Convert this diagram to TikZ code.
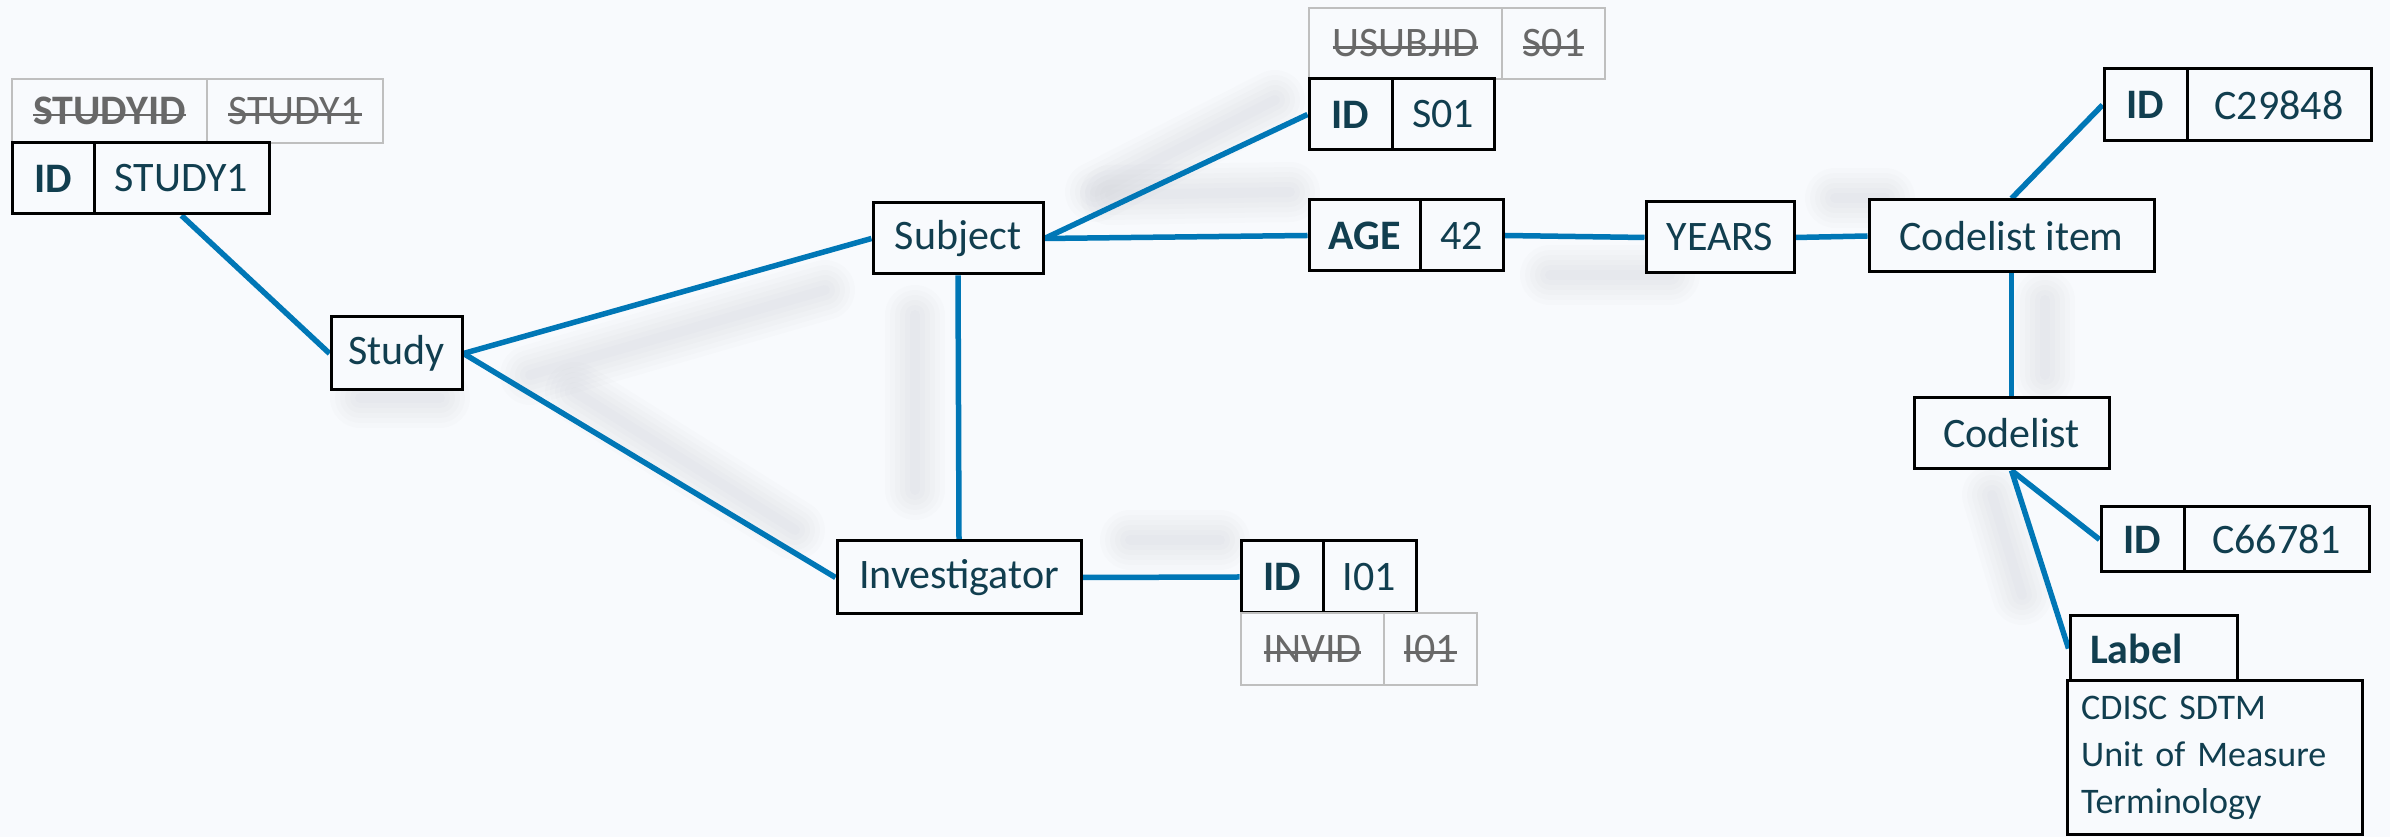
\documentclass[tikz,border=0pt]{standalone}
\usepackage{fontspec}
\setmainfont{Carlito}
\newsavebox{\strkbox}
\newcommand{\strk}[1]{\sbox{\strkbox}{#1}\rlap{\usebox{\strkbox}}\rule[0.2em]{\wd\strkbox}{0.8pt}}
\definecolor{bgc}{HTML}{F8FAFD}
\definecolor{txt}{HTML}{113E4F}
\definecolor{edgeblue}{HTML}{0077B6}
\definecolor{grayline}{HTML}{BFBFBF}
\definecolor{graytxt}{HTML}{686868}
\definecolor{shadowc}{HTML}{80848C}
\pgfdeclarelayer{bglayer}
\pgfdeclarelayer{edgelayer}
\pgfsetlayers{bglayer,edgelayer,main}
\newcommand{\softshadow}[2]{%
  \foreach \w in {18,15,12,9,6,3}{%
    \draw[line width=\w pt, shadowc, opacity=0.018, line cap=round] #1 -- #2;}}
\begin{document}
\begin{tikzpicture}[x=0.3pt,y=-0.3pt,
  cell/.style={draw=black, line width=0.9pt, fill=bgc, text=txt, inner sep=0pt,
    font=\fontsize{12.6}{15}\selectfont, minimum height=21.3pt},
  key/.style={cell, font=\fontsize{12.6}{15}\selectfont\bfseries},
  gcell/.style={draw=grayline, line width=0.75pt, fill=bgc, text=graytxt, inner sep=0pt,
    font=\fontsize{12.6}{15}\selectfont, minimum height=21.3pt},
  edge/.style={draw=edgeblue, line width=1.65pt}
]
\begin{pgfonlayer}{bglayer}
\fill[bgc] (0,0) rectangle (2390,837);
\end{pgfonlayer}
\useasboundingbox (0,0) rectangle (2390,837);

% STUDY
\node[gcell, minimum width=58.5pt, minimum height=19.2pt, font=\fontsize{12.6}{15}\selectfont\bfseries] (studyidg) at (109.5,111) {\strk{STUDYID}};
\node[gcell, minimum width=52.8pt, minimum height=19.2pt] (study1g) at (295,111) {\strk{STUDY1}};
\node[key, minimum width=24.6pt] (id1) at (53,178.5) {ID};
\node[cell, minimum width=52.5pt] (study1) at (181.5,178.5) {STUDY1};

\node[cell, minimum width=39.3pt, minimum height=21.9pt] (study) at (396.5,353.5) {Study};
\node[cell, minimum width=51pt] (subject) at (958,238.5) {Subject};
\node[cell, minimum width=73.2pt, minimum height=21.9pt] (invest) at (959,577.5) {Investigator};

% Subject ID
\node[gcell, minimum width=57.9pt] (usubjidg) at (1405.5,43.5) {\strk{USUBJID}};
\node[gcell, minimum width=30.9pt] (s01g) at (1553.5,43.5) {\strk{S01}};
\node[key, minimum width=24.9pt] (ids) at (1350.5,114.5) {ID};
\node[cell, minimum width=30.6pt] (s01) at (1443,114.5) {S01};

% AGE
\node[key, minimum width=33.3pt] (agek) at (1364.5,235.5) {AGE};
\node[cell, minimum width=24.9pt] (agev) at (1461.5,235.5) {42};
\node[cell, minimum width=44.4pt] (years) at (1720,237.5) {YEARS};

% Codelist item
\node[cell, minimum width=85.5pt, minimum height=21.6pt] (cli) at (2011.5,236) {Codelist item};
\node[key, minimum width=24.9pt, minimum height=21.6pt] (idc1) at (2145.5,105) {ID};
\node[cell, minimum width=55.2pt, minimum height=21.6pt] (c29848) at (2279,105) {C29848};

% Codelist
\node[cell, minimum width=58.5pt] (codelist) at (2011.5,433.5) {Codelist};
\node[key, minimum width=24.9pt, minimum height=19.5pt] (idc2) at (2142.5,539.5) {ID};
\node[cell, minimum width=55.5pt, minimum height=19.5pt] (c66781) at (2276.5,539.5) {C66781};
\node[key, minimum width=50.1pt, minimum height=19.5pt, text width=38.1pt, inner xsep=6pt, align=left] (labelk) at (2153.5,648.5) {Label};
\node[cell, minimum width=88.5pt, minimum height=46.2pt, text width=80pt, inner xsep=4.25pt, align=left,
  font=\fontsize{10.8}{14.1}\selectfont] (desc) at (2214.5,758) {CDISC SDTM\\Unit of Measure\\Terminology};

% Investigator ID
\node[key, minimum width=24.6pt, minimum height=21.6pt] (idi) at (1282,577) {ID};
\node[cell, minimum width=27.9pt, minimum height=21.6pt] (i01) at (1369.5,577) {I01};
\node[gcell, minimum width=42.9pt, minimum height=21.6pt] (invidg) at (1312.5,649) {\strk{INVID}};
\node[gcell, minimum width=27.9pt, minimum height=21.6pt] (i01g) at (1430.5,649) {\strk{I01}};

\begin{pgfonlayer}{edgelayer}
% soft shadows
\softshadow{(530,375)}{(825,290)}
\softshadow{(575,392)}{(795,530)}
\softshadow{(915,315)}{(915,490)}
\softshadow{(1095,192)}{(1275,100)}
\softshadow{(1110,195)}{(1290,192)}
\softshadow{(1550,275)}{(1670,275)}
\softshadow{(1835,198)}{(1885,198)}
\softshadow{(2045,300)}{(2045,375)}
\softshadow{(1992,495)}{(2022,595)}
\softshadow{(1130,540)}{(1220,540)}
\softshadow{(360,398)}{(440,398)}
% connectors
\draw[edge] (study1.south) -- (study.west);
\draw[edge] (study.east) -- (subject.west);
\draw[edge] (study.east) -- (invest.west);
\draw[edge] (subject.east) -- (ids.west);
\draw[edge] (subject.east) -- (agek.west);
\draw[edge] (subject.south) -- (invest.north);
\draw[edge] (invest.east) -- (idi.west);
\draw[edge] (agev.east) -- (years.west);
\draw[edge] (years.east) -- (cli.west);
\draw[edge] (cli.north) -- (idc1.west);
\draw[edge] (cli.south) -- (codelist.north);
\draw[edge] (codelist.south) -- (idc2.west);
\draw[edge] (codelist.south) -- (labelk.west);
\end{pgfonlayer}
\end{tikzpicture}
\end{document}
